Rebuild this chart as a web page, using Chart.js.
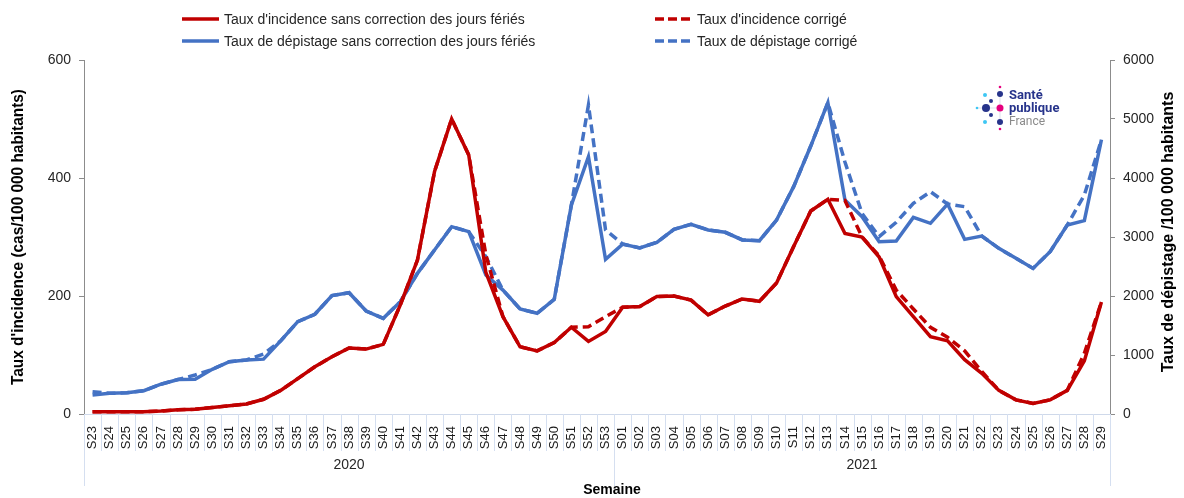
<!DOCTYPE html>
<html lang="fr">
<head>
<meta charset="utf-8">
<script src="https://cdn.jsdelivr.net/npm/chart.js@4.4.4/dist/chart.umd.min.js"></script>
<style>
  html, body { margin: 0; padding: 0; background: #fff; }
  #wrap { position: relative; width: 1184px; height: 498px; }
  #legend {
    position: absolute; top: 10px; left: 182px;
    display: grid; grid-template-columns: 473px auto; row-gap: 4px;
    font: 14px 'Liberation Sans', Arial, sans-serif; color: #262626;
  }
  .item { display: flex; align-items: center; height: 18px; white-space: nowrap; }
  .item svg { margin-right: 5px; }
</style>
</head>
<body>
<div id="wrap">
  <canvas id="chart" width="1184" height="498"></canvas>
  <div id="legend"></div>
</div>
<script>
const weekLabels = [
  "S23", "S24", "S25", "S26", "S27", "S28", "S29", "S30", "S31", "S32", "S33", "S34", "S35", "S36", "S37", "S38",
  "S39", "S40", "S41", "S42", "S43", "S44", "S45", "S46", "S47", "S48", "S49", "S50", "S51", "S52", "S53",
  "S01", "S02", "S03", "S04", "S05", "S06", "S07", "S08", "S09", "S10", "S11", "S12", "S13", "S14", "S15",
  "S16", "S17", "S18", "S19", "S20", "S21", "S22", "S23", "S24", "S25", "S26", "S27", "S28", "S29"
];
const yearLabels = ["2020", "2021"];
const yearWeekCounts = [31, 29];

// incidence (cas/100 000 hab.), axe gauche
const incidence = [
  4, 4, 4, 4, 5, 7, 8, 11, 14, 17, 25, 40, 60, 80, 97, 112,
  110, 118, 185, 261, 411, 500, 439, 240, 165, 114, 107, 121, 147, 123, 140,
  181, 182, 199, 200, 193, 168, 183, 195, 191, 222, 284, 344, 364, 306, 300,
  266, 199, 165, 131, 124, 92, 69, 40, 24, 18, 24, 40, 90, 190
];
const incidenceCorrected = [
  4, 4, 4, 4, 5, 7, 8, 11, 14, 17, 25, 40, 60, 80, 97, 112,
  110, 118, 185, 261, 411, 500, 439, 270, 165, 114, 107, 121, 147, 148, 165,
  181, 182, 199, 200, 193, 168, 183, 195, 191, 222, 284, 344, 364, 362, 300,
  268, 210, 178, 147, 130, 107, 72, 40, 24, 18, 24, 40, 103, 190
];

// dépistage (/100 000 hab.), axe droit
const screening = [
  322, 350, 360, 395, 505, 585, 590, 757, 887, 915, 930, 1240, 1565, 1690, 2006, 2056,
  1746, 1621, 1904, 2384, 2780, 3175, 3090, 2356, 2100, 1780, 1707, 1944, 3540, 4360, 2620,
  2880, 2815, 2910, 3130, 3215, 3119, 3080, 2950, 2937, 3288, 3853, 4542, 5277, 3627, 3345,
  2921, 2932, 3333, 3232, 3559, 2960, 3017, 2808, 2638, 2468, 2751, 3203, 3277, 4650
];
const screeningCorrected = [
  378, 350, 360, 395, 505, 585, 661, 757, 887, 915, 1017, 1240, 1565, 1690, 2006, 2056,
  1746, 1621, 1904, 2384, 2780, 3175, 3090, 2667, 2100, 1780, 1707, 1944, 3540, 5237, 3120,
  2880, 2815, 2910, 3130, 3215, 3119, 3080, 2950, 2937, 3288, 3853, 4542, 5277, 4270, 3400,
  3006, 3250, 3570, 3768, 3559, 3514, 3017, 2808, 2638, 2468, 2751, 3203, 3712, 4650
];

const RED = "#c00000";
const BLUE = "#4472c4";
const DASH = [9, 5];
const FONT = "'Liberation Sans', Arial, sans-serif";

Chart.defaults.font.family = FONT;
Chart.defaults.color = "#262626";

function lineSet(label, data, color, axis, dashed) {
  return {
    label, data, yAxisID: axis,
    borderColor: color, backgroundColor: color,
    borderWidth: 3.5, borderDash: dashed ? DASH : [],
    pointRadius: 0, pointHoverRadius: 0, tension: 0, fill: false,
  };
}

const datasets = [
  lineSet("Taux d'incidence sans correction des jours fériés", incidence, RED, "y", false),
  lineSet("Taux d'incidence corrigé", incidenceCorrected, RED, "y", true),
  lineSet("Taux de dépistage sans correction des jours fériés", screening, BLUE, "y1", false),
  lineSet("Taux de dépistage corrigé", screeningCorrected, BLUE, "y1", true),
];

// legend 2x2 en HTML
const legendEl = document.getElementById("legend");
datasets.forEach((ds) => {
  const item = document.createElement("div");
  item.className = "item";
  const dash = ds.borderDash.length ? `stroke-dasharray="9,4"` : "";
  item.innerHTML =
    `<svg width="37" height="8"><line x1="0" y1="4" x2="37" y2="4" stroke="${ds.borderColor}" stroke-width="3.5" ${dash}/></svg>` +
    `<span></span>`;
  item.querySelector("span").textContent = ds.label;
  legendEl.appendChild(item);
});

function fitText(ctx, text, target) {
  const w = ctx.measureText(text).width;
  return w > target ? target / w : 1;
}

const decorations = {
  id: "decorations",
  afterDraw(chart) {
    const ctx = chart.ctx;
    const x = chart.scales.x;
    const area = chart.chartArea;
    const step = x.getPixelForValue(1) - x.getPixelForValue(0);
    const edge = (i) => x.getPixelForValue(i) - step / 2;

    ctx.save();
    // séparateurs des semaines
    ctx.strokeStyle = "#d5dff0";
    ctx.lineWidth = 1;
    for (let i = 0; i <= weekLabels.length; i++) {
      const px = Math.round(edge(i)) + 0.5;
      ctx.beginPath();
      ctx.moveTo(px, area.bottom);
      ctx.lineTo(px, area.bottom + 37);
      ctx.stroke();
    }
    // groupes d'années
    let start = 0;
    ctx.font = "14px " + FONT;
    ctx.fillStyle = "#262626";
    ctx.textAlign = "center";
    ctx.textBaseline = "middle";
    const bounds = [0];
    yearLabels.forEach((yr, k) => {
      const end = start + yearWeekCounts[k];
      bounds.push(end);
      ctx.fillText(yr, (edge(start) + edge(end)) / 2, 465);
      start = end;
    });
    ctx.strokeStyle = "#d5dff0";
    bounds.forEach((b) => {
      const px = Math.round(edge(b)) + 0.5;
      ctx.beginPath();
      ctx.moveTo(px, area.bottom + 37);
      ctx.lineTo(px, area.bottom + 72);
      ctx.stroke();
    });

    ctx.font = "bold 14px " + FONT;
    ctx.fillStyle = "#000";
    ctx.fillText("Semaine", 612, 490);

    // titres des axes
    const leftTitle = "Taux d'incidence (cas/100 000 habitants)";
    ctx.save();
    ctx.translate(19, (area.top + area.bottom) / 2);
    ctx.rotate(-Math.PI / 2);
    ctx.font = "bold 16px 'Liberation Sans Narrow', " + FONT;
    const s1 = fitText(ctx, leftTitle, 296);
    ctx.scale(s1, 1);
    ctx.fillText(leftTitle, 0, 0);
    ctx.restore();

    const rightTitle = "Taux de dépistage /100 000 habitants";
    ctx.save();
    ctx.translate(1169, 232);
    ctx.rotate(-Math.PI / 2);
    ctx.font = "bold 16px " + FONT;
    const s2 = fitText(ctx, rightTitle, 296);
    ctx.scale(s2, 1);
    ctx.fillText(rightTitle, 0, 0);
    ctx.restore();

    // logo Santé publique France
    const NAVY = "#27348b", PINK = "#e6007e", CYAN = "#3ec7f4";
    const dots = [
      [1000, 87, 1.3, PINK], [1000, 94, 3, NAVY], [985, 95, 2, CYAN], [991, 101, 2, NAVY],
      [977, 108, 1.3, CYAN], [986, 108, 4, NAVY], [1000, 108, 3.5, PINK],
      [991, 115, 2, NAVY], [985, 122, 2, CYAN], [1000, 122, 3, NAVY], [1000, 129, 1.3, PINK],
    ];
    ctx.strokeStyle = "#c8cbe0";
    ctx.lineWidth = 0.6;
    ctx.beginPath();
    ctx.moveTo(977, 108); ctx.lineTo(1000, 108);
    ctx.moveTo(1000, 94); ctx.lineTo(1000, 122);
    ctx.stroke();
    dots.forEach(([cx, cy, r, c]) => {
      ctx.fillStyle = c;
      ctx.beginPath();
      ctx.arc(cx, cy, r, 0, Math.PI * 2);
      ctx.fill();
    });
    ctx.textAlign = "left";
    ctx.fillStyle = NAVY;
    ctx.font = "bold 13px 'Roboto', " + FONT;
    ctx.fillText("Santé", 1009, 96);
    ctx.fillText("publique", 1009, 109);
    ctx.fillStyle = "#8a8a8a";
    ctx.font = "12px 'Roboto', " + FONT;
    ctx.fillText("France", 1009, 122);
    ctx.restore();
  },
};

new Chart(document.getElementById("chart"), {
  type: "line",
  data: { labels: weekLabels, datasets },
  options: {
    responsive: false,
    animation: false,
    layout: { padding: { top: 60, left: 0, right: 0, bottom: 0 } },
    plugins: { legend: { display: false }, tooltip: { enabled: false } },
    scales: {
      x: {
        offset: true,
        grid: { display: false },
        border: { color: "#cfd9ea" },
        ticks: {
          autoSkip: false, minRotation: 90, maxRotation: 90,
          font: { size: 13 }, color: "#1a1a1a", padding: 4,
        },
        afterFit: (s) => { s.height = 84; },
      },
      y: {
        position: "left", min: 0, max: 600,
        ticks: { stepSize: 200, font: { size: 14 }, padding: 8, callback: (v) => String(v) },
        grid: { drawOnChartArea: false, tickLength: 5, color: "#8c8c8c" },
        border: { color: "#8c8c8c" },
        afterFit: (s) => { s.width = 84; },
      },
      y1: {
        position: "right", min: 0, max: 6000,
        ticks: { stepSize: 1000, font: { size: 14 }, padding: 8, callback: (v) => String(v) },
        grid: { drawOnChartArea: false, tickLength: 5, color: "#8c8c8c" },
        border: { color: "#8c8c8c" },
        afterFit: (s) => { s.width = 74; },
      },
    },
  },
  plugins: [decorations],
});
</script>
</body>
</html>
